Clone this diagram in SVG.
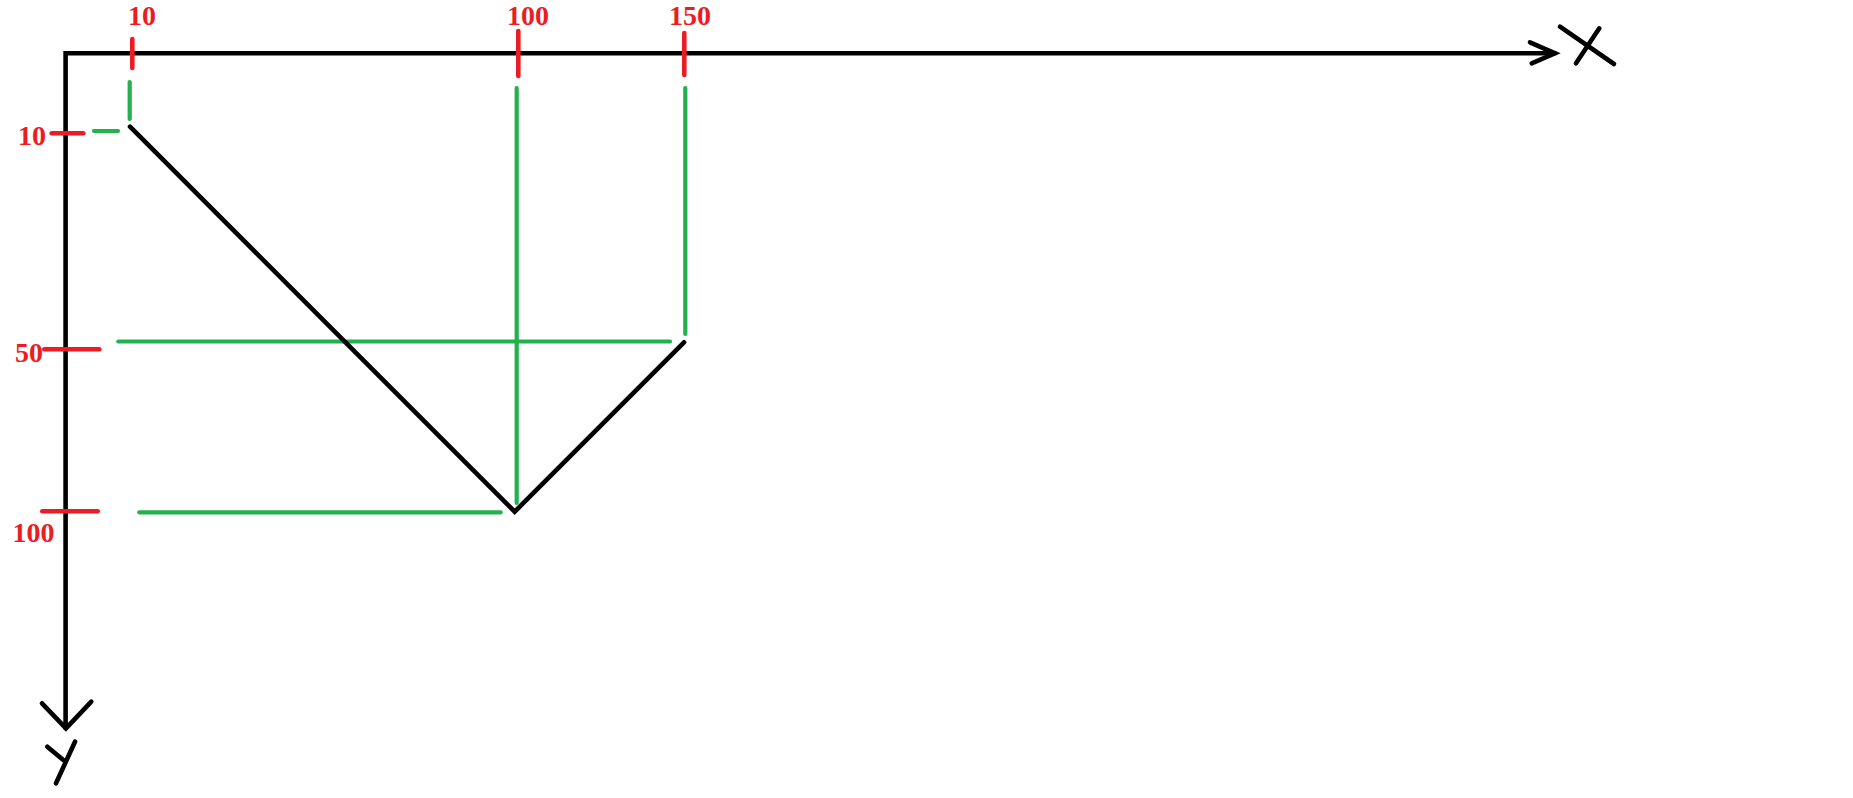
<svg xmlns="http://www.w3.org/2000/svg" width="1853" height="798" viewBox="0 0 1853 798">
<style>
.ax{fill:none;stroke:#000;stroke-width:4.6;stroke-linecap:round;stroke-linejoin:miter}
.blk{fill:none;stroke:#000;stroke-width:4.6;stroke-linecap:round;stroke-linejoin:miter}
.tick{stroke:#ED1C24;stroke-width:4.6;stroke-linecap:round}
.gd{stroke:#22B14C;stroke-width:4.2;stroke-linecap:round}
.lbl{fill:#ED1C24;font-family:"Liberation Serif","DejaVu Serif",serif;font-weight:bold;font-size:28px;text-anchor:middle}
</style>
<rect width="1853" height="798" fill="#fff"/>
<g id="axes">
<polyline class="ax" points="1555,53.3 65.6,53.3 65.6,728.3"/>
<polyline class="ax" points="1530,42.3 1555,53.3 1531.7,63.3"/>
<polyline class="ax" points="42,703.3 66,728.3 91.3,701.7"/>
<line class="ax" x1="1560" y1="26.7" x2="1614" y2="64"/>
<line class="ax" x1="1599.3" y1="28.3" x2="1576" y2="63.3"/>
<line class="ax" x1="75" y1="741.7" x2="56" y2="783.3"/>
<line class="ax" x1="47.3" y1="746.7" x2="63.3" y2="760"/>
</g>
<g id="ticks">
<line class="tick" x1="132.3" y1="39" x2="132.3" y2="68"/>
<line class="tick" x1="518.3" y1="31" x2="518.3" y2="76"/>
<line class="tick" x1="684.3" y1="33" x2="684.3" y2="75"/>
<line class="tick" x1="51.7" y1="133.3" x2="83.3" y2="133.3"/>
<line class="tick" x1="44.3" y1="349.3" x2="99.3" y2="349.3"/>
<line class="tick" x1="42.3" y1="511.3" x2="97.7" y2="511.3"/>
</g>
<g id="labels">
<text class="lbl" x="142" y="25">10</text>
<text class="lbl" x="528" y="25">100</text>
<text class="lbl" x="690" y="25">150</text>
<text class="lbl" x="32" y="145">10</text>
<text class="lbl" x="29" y="361.7">50</text>
<text class="lbl" x="33.5" y="542.3">100</text>
</g>
<g id="guides">
<line class="gd" x1="129.7" y1="82" x2="129.7" y2="119"/>
<line class="gd" x1="94" y1="131" x2="118" y2="131"/>
<line class="gd" x1="516.7" y1="88" x2="516.7" y2="503"/>
<line class="gd" x1="685.3" y1="88" x2="685.3" y2="334"/>
<line class="gd" x1="118.3" y1="341.5" x2="670" y2="341.5"/>
<line class="gd" x1="139.3" y1="512.3" x2="500.7" y2="512.3"/>
</g>
<g id="shape">
<polyline class="blk" points="130,126.7 514.7,511.7 684,342.3"/>
</g>
</svg>
